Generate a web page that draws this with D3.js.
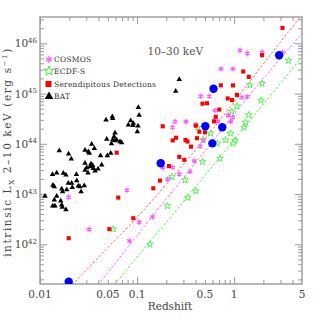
<!DOCTYPE html>
<html><head><meta charset="utf-8">
<script src="https://cdn.jsdelivr.net/npm/d3@7"></script>
<style>body{margin:0;background:#fff}svg{display:block}text{font-family:"DejaVu Serif",serif}</style>
</head><body><svg id="c" width="319" height="319"></svg>
<script>
// ---- data (redshift, intrinsic 2-10 keV luminosity erg/s) ----
const batPoints = [[0.103,5.3e44],[0.105,3.7e44],[0.0813,2.37e44],[0.086,2.9e44],[0.0915,2.56e44],[0.0908,2.31e44],[0.1022,2.26e44],[0.1006,1.74e44],[0.0479,2.98e44],[0.0556,3.46e44],[0.0561,3.19e44],[0.0593,1.64e44],[0.0579,1.38e44],[0.0487,1.23e44],[0.0561,1.19e44],[0.0593,1.15e44],[0.0617,1.19e44],[0.0667,1.10e44],[0.0694,1.05e44],[0.0545,1.01e44],[0.0341,9.8e43],[0.0363,8.1e43],[0.0291,7.5e43],[0.0315,7.0e43],[0.0322,6.5e43],[0.0158,7.3e43],[0.0197,6.3e43],[0.0210,5.0e43],[0.0420,5.8e43],[0.0494,5.8e43],[0.0535,6.5e43],[0.0432,3.8e43],[0.0291,4.1e43],[0.0335,4.0e43],[0.0349,3.7e43],[0.0327,3.5e43],[0.0354,3.25e43],[0.0303,3.34e43],[0.0291,3.0e43],[0.0237,2.47e43],[0.0174,2.59e43],[0.0185,2.39e43],[0.01345,2.45e43],[0.01486,2.62e43],[0.0136,1.51e43],[0.01404,1.41e43],[0.01673,1.26e43],[0.01884,1.22e43],[0.0215,1.36e43],[0.0248,1.45e43],[0.0258,1.40e43],[0.0286,1.47e43],[0.0265,1.11e43],[0.01126,9.1e42],[0.01486,9.1e42],[0.01404,7.6e42],[0.01634,7.3e42],[0.01673,6.05e42],[0.01697,5.5e42],[0.01352,5.8e42],[0.01427,5.8e42],[0.0185,4.9e42],[0.0212,1.64e43],[0.0239,1.85e43],[0.0369,2.88e43],[0.272,1.92e45],[0.250,1.11e45],[0.0312,2.62e43],[0.0396,3.15e43],[0.01957,1.64e43],[0.0171,1.11e43]];
const serendipPoints = [[3.15,2.03e46],[1.94,5.8e45],[1.24,2.75e45],[1.416,2.15e45],[0.729,1.46e45],[0.973,1.45e45],[1.07,9.4e44],[0.858,8.0e44],[0.95,7.4e44],[0.472,6.3e44],[0.525,6.4e44],[0.703,4.8e44],[0.646,3.44e44],[0.620,2.8e44],[0.402,2.29e44],[0.1837,2.23e44],[0.4375,1.74e44],[0.501,1.69e44],[0.4145,1.29e44],[0.252,1.32e44],[0.2328,1.17e44],[0.3155,1.19e44],[0.3307,1.11e44],[0.3594,8.8e43],[0.272,5.5e43],[0.3066,4.8e43],[0.213,3.6e43],[0.1723,1.85e43],[0.147,1.30e43],[0.0617,6.65e43],[0.064,8.5e42],[0.0915,3.3e42],[0.0518,2.0e42],[0.01976,1.32e42]];
const cosmosPoints = [[1.149,7.2e45],[1.363,6.35e45],[1.94,6.65e45],[3.15,6.6e45],[0.732,3.1e45],[0.973,3.1e45],[0.4524,8.9e44],[0.555,8.9e44],[1.199,8.4e44],[1.363,8.7e44],[0.871,3.74e44],[0.967,3.4e44],[0.922,2.75e44],[0.677,2.84e44],[0.635,4.6e44],[0.246,2.8e44],[0.319,2.75e44],[0.405,2.42e44],[0.2317,2.13e44],[0.481,1.17e44],[0.445,8.9e43],[0.389,4.55e43],[0.351,2.79e43],[0.1837,3.34e43],[0.2328,3.4e43],[0.2068,1.97e43],[0.272,2.5e43],[0.0786,1.2e43],[0.0197,8.7e42],[0.0321,1.99e42],[0.105,2.75e42],[0.0836,1.17e42],[0.1449,3.5e42]];
const ecdfsPoints = [[3.63,4.55e45],[1.45,1.47e45],[1.94,1.58e45],[1.891,7.3e44],[1.07,5.6e44],[0.946,4.4e44],[1.413,3.74e44],[1.309,2.68e44],[1.264,2.13e44],[0.917,1.62e44],[0.571,1.62e44],[0.478,1.19e44],[0.815,1.19e44],[1.021,1.16e44],[0.98,1.02e44],[0.671,1.02e44],[0.715,5.1e43],[0.472,4.4e43],[0.4214,2.13e44],[0.229,2.2e43],[0.312,1.9e43],[0.402,1.15e43],[0.3323,8.5e42],[0.2058,5.8e42],[0.0569,2.0e42],[0.136,1.0e42]];
const bluePoints = [[2.91,5.8e45],[0.613,1.25e45],[0.505,2.23e44],[0.755,2.13e44],[0.596,1.02e44],[0.1752,4.1e43],[0.01976,1.8e41]];

// flux-limit curves
const redLineZ = [0.02,0.05,0.1,0.2,0.5,1,2,5];
const redLineL = [1.35e41,8.6e41,3.43e42,1.56e43,1.26e44,6.8e44,3.9e45,3.7e46];
const magLineZ = [0.0374,0.0751,0.1415,0.277,0.564,1.457,5];
const magLineL = [1.35e41,7.4e41,3.5e42,1.74e43,9.7e43,9.6e44,1.57e46];
const grnLineZ = [0.0548,0.136,0.236,0.445,1.457,5];
const grnLineL = [1.35e41,1.14e42,4.0e42,1.78e43,2.91e44,5.3e45];

// axis ticks
const xLabelTicks = [0.01,0.05,0.1,0.5,1,5];
const xLabelText = ["0.01","0.05","0.1","0.5","1","5"];
const xMajorTicks = [0.01,0.1,1];
const xMinorTicks = [0.02,0.03,0.04,0.05,0.06,0.07,0.08,0.09,0.2,0.3,0.4,0.5,0.6,0.7,0.8,0.9,2,3,4];
const yMajorTicks = [1e42,1e43,1e44,1e45,1e46];
const yExponents = ["42","43","44","45","46"];
const yMinorTicks = [2e41,3e41,4e41,5e41,6e41,7e41,8e41,9e41,2e42,3e42,4e42,5e42,6e42,7e42,8e42,9e42,2e43,3e43,4e43,5e43,6e43,7e43,8e43,9e43,2e44,3e44,4e44,5e44,6e44,7e44,8e44,9e44,2e45,3e45,4e45,5e45,6e45,7e45,8e45,9e45,2e46,3e46];

const L=40,R=302,T=17,B=284;
const x = d3.scaleLog().domain([0.01,5]).range([L,R]);
const y = d3.scaleLog().domain([1.62e41,3.34e46]).range([B,T]);
const svg = d3.select('#c');
const frameCol = '#999';

svg.append('defs').append('clipPath').attr('id','clip')
  .append('rect').attr('x',L).attr('y',T).attr('width',R-L).attr('height',B-T);

function ticks(axisGen, tr, vals, len){
  const g = svg.append('g').attr('transform',tr)
    .call(axisGen.tickValues(vals).tickSize(len).tickFormat(''));
  g.select('.domain').remove();
  g.selectAll('line').attr('stroke',frameCol).attr('stroke-width',1);
}
ticks(d3.axisBottom(x), `translate(0,${B})`, xMajorTicks, -7);
ticks(d3.axisBottom(x), `translate(0,${B})`, xMinorTicks, -4);
ticks(d3.axisTop(x), `translate(0,${T})`, xMajorTicks, -7);
ticks(d3.axisTop(x), `translate(0,${T})`, xMinorTicks, -4);
ticks(d3.axisLeft(y), `translate(${L},0)`, yMajorTicks, -7);
ticks(d3.axisLeft(y), `translate(${L},0)`, yMinorTicks, -4);
ticks(d3.axisRight(y), `translate(${R},0)`, yMajorTicks, -7);
ticks(d3.axisRight(y), `translate(${R},0)`, yMinorTicks, -4);

svg.append('rect').attr('x',L).attr('y',T).attr('width',R-L).attr('height',B-T)
  .attr('fill','none').attr('stroke',frameCol).attr('stroke-width',1.4);

// tick labels
const tc = '#444';
svg.append('g').selectAll('text').data(xLabelTicks).join('text')
  .attr('x',d=>x(d)).attr('y',298).attr('text-anchor','middle')
  .attr('font-size',10.5).attr('fill',tc).text((d,i)=>xLabelText[i]);
const yl = svg.append('g').selectAll('text').data(yMajorTicks).join('text')
  .attr('x',37).attr('y',d=>y(d)+4).attr('text-anchor','end').attr('font-size',10.5).attr('fill',tc);
yl.append('tspan').text('10');
yl.append('tspan').attr('dy',-4.5).attr('font-size',7).text((d,i)=>yExponents[i]);

svg.append('text').attr('x',170).attr('y',310).attr('text-anchor','middle')
  .attr('font-size',10.5).attr('fill',tc).text('Redshift');
const yt = svg.append('text').attr('transform','translate(11,152) rotate(-90)')
  .attr('text-anchor','middle').attr('font-size',10.5).attr('letter-spacing',1.6).attr('fill',tc);
yt.append('tspan').text('intrinsic L');
yt.append('tspan').attr('dy',2.5).attr('font-size',7).text('X');
yt.append('tspan').attr('dy',-2.5).text(' 2\u201310 keV (erg s');
yt.append('tspan').attr('dy',-4).attr('font-size',7).text('\u22121');
yt.append('tspan').attr('dy',4).text(')');

svg.append('text').attr('x',147.5).attr('y',55).attr('font-size',10.5).attr('fill','#555').text('10\u201330 keV');

// lines
const lineGen = d3.line().x(d=>x(d[0])).y(d=>y(d[1])).curve(d3.curveMonotoneX);
const plot = svg.append('g').attr('clip-path','url(#clip)');
[[redLineZ,redLineL,'#ff6666'],[magLineZ,magLineL,'#ff66ff'],[grnLineZ,grnLineL,'#55ee55']].forEach(([zs,ls,c])=>{
  plot.append('path').datum(zs.map((z,i)=>[z,ls[i]])).attr('d',lineGen)
    .attr('fill','none').attr('stroke',c).attr('stroke-width',1).attr('stroke-dasharray','2.5,1.8');
});

// markers
const star = d3.symbol(d3.symbolStar,14), ast = d3.symbol(d3.symbolAsterisk,20),
      sq = d3.symbol(d3.symbolSquare,17), tri = d3.symbol(d3.symbolTriangle,13);
plot.append('g').selectAll('path').data(ecdfsPoints).join('path')
  .attr('transform',d=>`translate(${x(d[0])},${y(d[1])})`).attr('d',star)
  .attr('fill','#fff').attr('stroke','#44ee44').attr('stroke-width',0.9);
plot.append('g').selectAll('path').data(cosmosPoints).join('path')
  .attr('transform',d=>`translate(${x(d[0])},${y(d[1])})`).attr('d',ast)
  .attr('fill','none').attr('stroke','#ff55ff').attr('stroke-width',1.2);
plot.append('g').selectAll('path').data(serendipPoints).join('path')
  .attr('transform',d=>`translate(${x(d[0])},${y(d[1])})`).attr('d',sq).attr('fill','#ff0000');
plot.append('g').selectAll('path').data(batPoints).join('path')
  .attr('transform',d=>`translate(${x(d[0])},${y(d[1])})`).attr('d',tri).attr('fill','#000');
plot.append('g').selectAll('circle').data(bluePoints).join('circle')
  .attr('cx',d=>x(d[0])).attr('cy',d=>y(d[1])).attr('r',4.2).attr('fill','#0000ff');

// legend
const legNames = ['COSMOS','ECDF-S','Serendipitous Detections','BAT'];
const legY = [59.5,71,84,96.5];
const lg = svg.append('g');
lg.append('path').attr('transform',`translate(49,${legY[0]})`).attr('d',d3.symbol(d3.symbolAsterisk,34))
  .attr('fill','none').attr('stroke','#ff55ff').attr('stroke-width',1.2);
lg.append('path').attr('transform',`translate(49,${legY[1]})`).attr('d',d3.symbol(d3.symbolStar,30))
  .attr('fill','#fff').attr('stroke','#44ee44').attr('stroke-width',1);
lg.append('path').attr('transform',`translate(48.5,${legY[2]})`).attr('d',d3.symbol(d3.symbolSquare,36)).attr('fill','#ff0000');
lg.append('path').attr('transform',`translate(49,${legY[3]})`).attr('d',d3.symbol(d3.symbolTriangle,32)).attr('fill','#000');
lg.selectAll('text').data(legNames).join('text')
  .attr('x',54).attr('y',(d,i)=>legY[i]+2.8).attr('font-size',7.5).attr('letter-spacing',0.25).attr('fill','#333').text(d=>d);
</script></body></html>
